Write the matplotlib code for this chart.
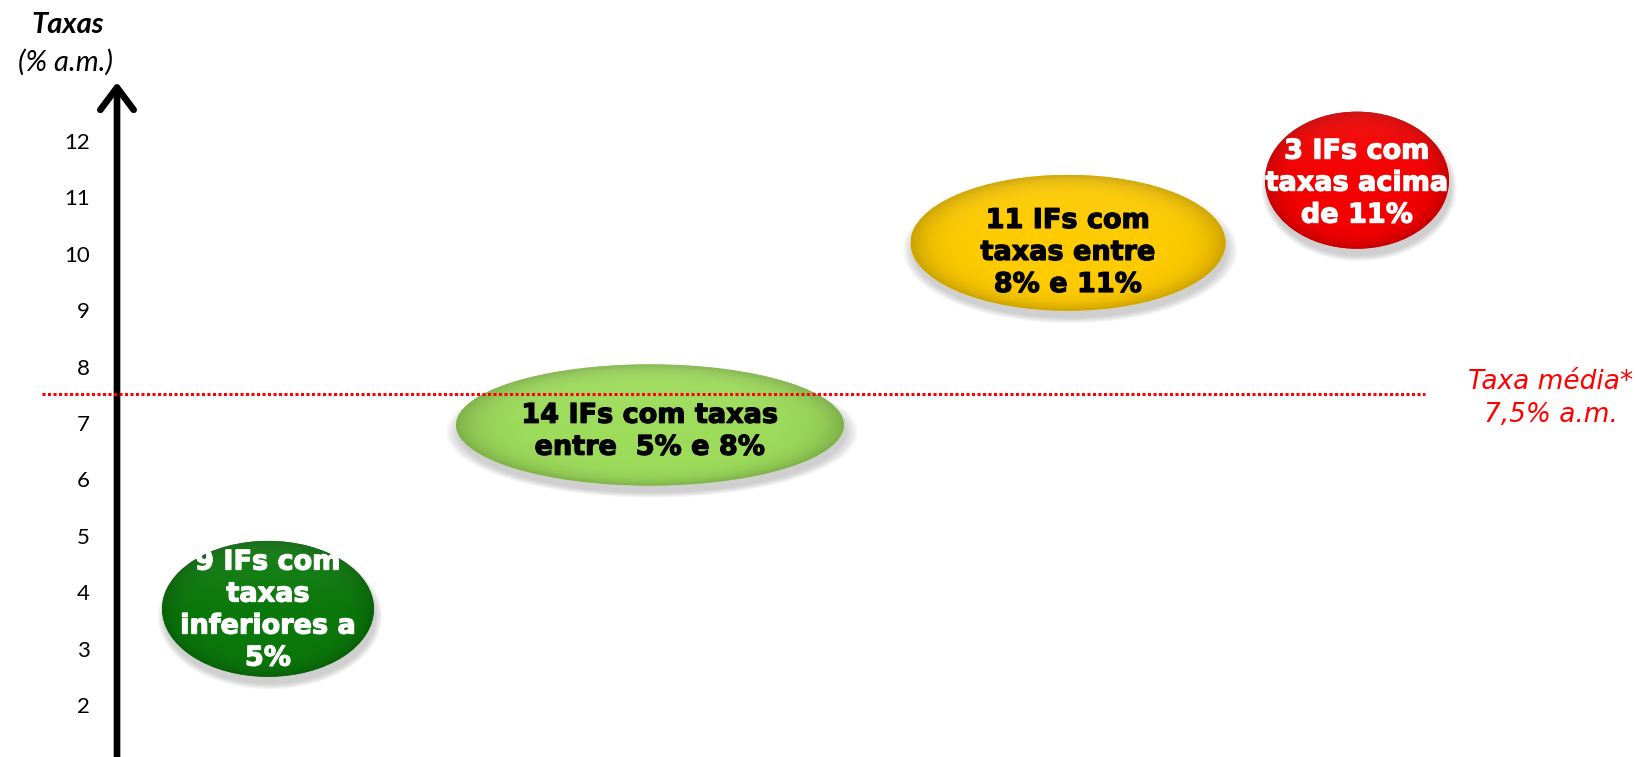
import numpy as np
import matplotlib
matplotlib.use("Agg")
import matplotlib.pyplot as plt
import matplotlib.patheffects as pe
from matplotlib.patches import Ellipse, FancyArrowPatch
from matplotlib.colors import to_rgb

# tick values on the rate axis (% a.m.)
tick_values = [2, 3, 4, 5, 6, 7, 8, 9, 10, 11, 12]
mean_rate = 7.5

# groups of institutions (IFs), one bubble each
group_labels = [
    "9 IFs com\ntaxas\ninferiores a\n5%",
    "14 IFs com taxas\nentre  5% e 8%",
    "11 IFs com\ntaxas entre\n8% e 11%",
    "3 IFs com\ntaxas acima\nde 11%",
]
group_x = [2.68, 6.50, 10.68, 13.57]
group_rate = [3.74, 7.00, 10.23, 11.34]
group_width = [2.12, 3.88, 3.15, 1.84]
group_height = [2.41, 2.15, 2.41, 2.43]
label_dy = [-0.03, -0.12, -0.18, -0.06]
group_colors = ["#0b780b", "#9edc5c", "#ffcb00", "#f40000"]
text_colors = ["white", "black", "black", "white"]

fig = plt.figure(figsize=(16.37, 7.57), dpi=100)
ax = fig.add_axes([0, 0, 1, 1])
ax.set_xlim(0, 16.37)
ax.set_ylim(1.113, 14.535)
ax.axis("off")

axis_x = 1.17

# vertical axis with arrow head
arrow = FancyArrowPatch((axis_x, 1.0), (axis_x, 13.08),
                        arrowstyle="->,head_length=0.4,head_width=0.3",
                        lw=4.8, color="black", mutation_scale=40,
                        shrinkA=0, shrinkB=0, zorder=3)
ax.add_patch(arrow)

for v in tick_values:
    ax.text(0.90, v, str(v), ha="right", va="center", fontsize=16,
            family="Lato", color="black")

ax.text(0.68, 14.09, "Taxas", ha="center", va="center", fontsize=21,
        family="Lato", weight="bold", style="italic")
ax.text(0.65, 13.43, "(% a.m.)", ha="center", va="center", fontsize=21,
        family="Lato", style="italic")

# mean rate line
ax.plot([0.42, 14.25], [mean_rate + 0.05, mean_rate + 0.05], color="red",
        lw=2.2, linestyle=(0, (1, 0.8)), zorder=4)
ax.text(15.51, mean_rate - 0.03, "Taxa média*\n7,5% a.m.", ha="center",
        va="center", fontsize=19, style="italic", color="red",
        linespacing=1.35)

# bubbles
ny, nx = 200, 200
yy, xx = np.mgrid[1:-1:ny * 1j, -1:1:nx * 1j]
rr = np.sqrt(xx ** 2 + yy ** 2)
for i in range(len(group_labels)):
    cx, cy = group_x[i], group_rate[i]
    w, h = group_width[i], group_height[i]
    # soft shadow
    for k in range(6):
        sh = Ellipse((cx + 0.02, cy - 0.13), w * (1.0 + 0.012 * k),
                     h * (1.0 + 0.015 * k), color="gray",
                     alpha=0.07, lw=0, zorder=1)
        ax.add_patch(sh)
    ell = Ellipse((cx, cy), w, h, facecolor=group_colors[i], lw=0, zorder=2)
    ax.add_patch(ell)
    base = np.array(to_rgb(group_colors[i]))
    shade = 1.0 - 0.2 * np.clip(rr, 0, 1) ** 8
    light = 0.08 * np.clip(yy, 0, 1)
    img = base[None, None, :] * shade[..., None]
    img = img + (1 - img) * light[..., None]
    img = np.clip(img, 0, 1)
    im = ax.imshow(img, extent=[cx - w / 2, cx + w / 2, cy - h / 2, cy + h / 2],
                   aspect="auto", zorder=2, interpolation="bilinear")
    im.set_clip_path(ell)
    ax.text(cx, cy + label_dy[i], group_labels[i], ha="center", va="center",
            fontsize=19.5, weight="bold", color=text_colors[i],
            linespacing=1.3, zorder=5, family="DejaVu Sans",
            path_effects=[pe.withStroke(linewidth=0.9,
                                        foreground=text_colors[i])])

ax.set_xlim(0, 16.37)
ax.set_ylim(1.113, 14.535)
fig.savefig("out.png", dpi=100)
